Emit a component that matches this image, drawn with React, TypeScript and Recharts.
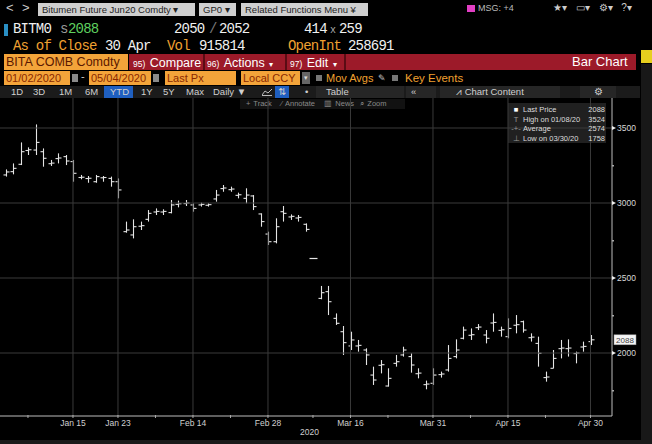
import React from "react";
import { ComposedChart, Bar, XAxis, YAxis, ReferenceLine } from "recharts";

// trading days, Jan 2 – Apr 30 2020 (SHFE closed for CNY + Qingming)
const dates = [
  "01/02", "01/03", "01/06", "01/07", "01/08", "01/09", "01/10", "01/13", "01/14", "01/15",
  "01/16", "01/17", "01/20", "01/21", "01/22", "01/23",
  "02/03", "02/04", "02/05", "02/06", "02/07", "02/10", "02/11", "02/12", "02/13", "02/14",
  "02/17", "02/18", "02/19", "02/20", "02/21", "02/24", "02/25", "02/26", "02/27", "02/28",
  "03/02", "03/03", "03/04", "03/05", "03/06", "03/09", "03/10", "03/11", "03/12", "03/13",
  "03/16", "03/17", "03/18", "03/19", "03/20", "03/23", "03/24", "03/25", "03/26", "03/27",
  "03/30", "03/31",
  "04/01", "04/02", "04/03", "04/07", "04/08", "04/09", "04/10", "04/13", "04/14", "04/15",
  "04/16", "04/17", "04/20", "04/21", "04/22", "04/23", "04/24", "04/27", "04/28", "04/29", "04/30",
];

const opens = [
  3187, 3209, 3258, 3350, 3353, 3342, 3262, 3296, 3309, 3276,
  3170, 3163, 3142, 3168, 3164, 3142,
  2809, 2787, 2845, 2891, 2940, 2940, 2936, 2991, 2996, 2987,
  2987, 2985, 3027, 3096, 3089, 3051, 3031, 3047, 2927, 2793,
  2742, 2942, 2907, 2900, 2858, 2630, 2364, 2409, 2231, 2142,
  2047, 2047, 2020, 1853, 1918, 1780, 1931, 1987, 1976, 1862,
  1789, 1798,
  1856, 1887, 1976, 2098, 2118, 2169, 2120, 2200, 2151, 2109,
  2185, 2209, 2102, 2064, 1836, 1898, 2029, 2029, 1996, 2040, 2076,
];
const highs = [
  3224, 3264, 3404, 3371, 3524, 3364, 3287, 3331, 3320, 3287,
  3187, 3180, 3187, 3180, 3176, 3164,
  2876, 2891, 2876, 2953, 2964, 2958, 3020, 3016, 3020, 2998,
  3002, 2998, 3087, 3120, 3109, 3069, 3098, 3053, 2931, 2809,
  2898, 2980, 2924, 2920, 2864, 2630, 2447, 2447, 2264, 2180,
  2142, 2087, 2031, 1909, 1953, 1898, 1987, 2042, 1998, 1898,
  1816, 1898,
  1876, 2053, 2091, 2176, 2164, 2193, 2153, 2264, 2176, 2231,
  2253, 2216, 2131, 2109, 1876, 2020, 2087, 2091, 2009, 2076, 2120,
];
const lows = [
  3176, 3191, 3253, 3320, 3320, 3242, 3247, 3264, 3253, 3142,
  3158, 3135, 3135, 3142, 3109, 3031,
  2802, 2764, 2820, 2876, 2920, 2920, 2931, 2971, 2980, 2942,
  2976, 2976, 3009, 3075, 3075, 3031, 2998, 2953, 2842, 2720,
  2731, 2876, 2887, 2876, 2809, 2630, 2358, 2253, 2187, 1987,
  2020, 2009, 1920, 1787, 1864, 1776, 1909, 1976, 1869, 1831,
  1758, 1787,
  1836, 1876, 1964, 2091, 2087, 2153, 2064, 2142, 2109, 2098,
  2131, 2136, 2076, 1909, 1809, 1898, 1964, 1976, 1931, 2009, 2053,
];
const closes = [
  3207, 3231, 3342, 3355, 3404, 3298, 3266, 3300, 3280, 3198,
  3172, 3165, 3176, 3170, 3142, 3087,
  2820, 2842, 2849, 2931, 2944, 2944, 2987, 2995, 3000, 2964,
  2991, 2989, 3053, 3100, 3093, 3055, 3053, 2976, 2876, 2742,
  2842, 2931, 2911, 2904, 2824, 2630, 2402, 2342, 2198, 2069,
  2087, 2051, 1987, 1820, 1922, 1831, 1942, 2020, 1920, 1866,
  1793, 1853,
  1860, 1964, 2020, 2153, 2122, 2173, 2098, 2204, 2155, 2164,
  2189, 2153, 2106, 1998, 1840, 1964, 2033, 2033, 2000, 2044, 2088,
];

const majorTickIdx = [9, 15, 25, 35, 46, 57, 67, 78];
const majorTickText = ["Jan 15", "Jan 23", "Feb 14", "Feb 28", "Mar 16", "Mar 31", "Apr 15", "Apr 30"];
const minorTickIdx = [3, 20, 30, 41, 51, 62, 72];
const priceTicks = [1750, 2000, 2250, 2500, 2750, 3000, 3250, 3500];
const priceGrid = [2000, 2500, 3000, 3500];
const lastPrice = 2088;

const legendRows = [
  { icon: "■", label: "Last Price", value: "2088" },
  { icon: "T", label: "High on 01/08/20", value: "3524" },
  { icon: "-+-", label: "Average", value: "2574" },
  { icon: "⊥", label: "Low on 03/30/20", value: "1758" },
];

const data = dates.map((d, i) => ({
  i,
  date: d,
  o: opens[i],
  h: highs[i],
  l: lows[i],
  c: closes[i],
  range: [lows[i], highs[i]],
}));

const FONT = "'Liberation Sans', Arial, sans-serif";
const MONO = "'Liberation Mono', 'DejaVu Sans Mono', monospace";
const ORANGE = "#f3a43a";
const ORANGE_TXT = "#f0a030";
const BAR = "#e4e4e4";
const GRID = "#3a3a3a";

function OhlcShape(props: any) {
  const { x, y, width, height, payload } = props;
  if (x == null || y == null) return null;
  const cx = Math.round(x + width / 2) + 0.5;
  const top = Math.min(y, y + height);
  const len = Math.abs(height);
  const span = payload.h - payload.l;
  if (span === 0) {
    return <line x1={cx - 4} x2={cx + 4} y1={top} y2={top} stroke={BAR} strokeWidth={1.2} />;
  }
  const py = (v: number) => top + ((payload.h - v) / span) * len;
  return (
    <g stroke={BAR} strokeWidth={1.1}>
      <line x1={cx} x2={cx} y1={top} y2={top + len} />
      <line x1={cx - 3} x2={cx} y1={py(payload.o)} y2={py(payload.o)} />
      <line x1={cx} x2={cx + 3} y1={py(payload.c)} y2={py(payload.c)} />
    </g>
  );
}

function XTick(props: any) {
  const { x, y, payload } = props;
  const k = majorTickIdx.indexOf(payload.value);
  return (
    <g>
      <line x1={x} x2={x} y1={y - 1} y2={y + 2} stroke="#aaa" />
      {k >= 0 && (
        <text x={x} y={y + 10} textAnchor="middle" fontSize={8.5} fill="#d0d0d0" fontFamily={FONT}>
          {majorTickText[k]}
        </text>
      )}
    </g>
  );
}

function YTick(props: any) {
  const { x, y, payload } = props;
  const v = payload.value;
  if (v % 500 !== 0) {
    return <rect x={x} y={y - 0.5} width={2} height={1.5} fill="#aaa" />;
  }
  return (
    <g>
      <polygon points={`${x},${y - 2} ${x + 4},${y} ${x},${y + 2}`} fill="#eee" />
      <text x={x + 5} y={y + 3} fontSize={8.5} fill="#d8d8d8" fontFamily={FONT}>
        {v}
      </text>
    </g>
  );
}

function LastLabel(props: any) {
  const { viewBox } = props;
  const bx = viewBox.x + viewBox.width + 2;
  const by = viewBox.y;
  return (
    <g>
      <rect x={bx} y={by - 5} width={22} height={10} fill="#f4f4f4" stroke="#999" strokeWidth={0.5} />
      <text x={bx + 11} y={by + 3} textAnchor="middle" fontSize={8} fill="#444" fontFamily={FONT}>
        {lastPrice}
      </text>
    </g>
  );
}

const abs = (left: number, top: number, extra: React.CSSProperties = {}): React.CSSProperties => ({
  position: "absolute",
  left,
  top,
  whiteSpace: "nowrap",
  ...extra,
});

function Box({ left, top, width, text, bg = ORANGE, color = "#8a2800", fs = 11 }: any) {
  return (
    <div
      style={abs(left, top, {
        width,
        height: 14,
        background: bg,
        color,
        fontSize: fs,
        lineHeight: "14px",
        paddingLeft: 2,
        boxSizing: "border-box",
        overflow: "hidden",
      })}
    >
      {text}
    </div>
  );
}

function Mono({ left, top, color, text, fs = 14 }: any) {
  return (
    <div
      style={abs(left, top, {
        fontFamily: MONO,
        fontSize: fs,
        color,
        lineHeight: "15px",
        letterSpacing: fs === 14 ? -0.8 : 0,
      })}
    >
      {text}
    </div>
  );
}

function Header() {
  const grey = { background: "#cfcfcf", color: "#222", fontSize: 9.5, lineHeight: "13px", height: 13, paddingLeft: 4, boxSizing: "border-box" as const };
  return (
    <>
      {/* row 1 */}
      <div style={abs(6, 0, { color: "#ccc", fontSize: 13 })}>&lt;</div>
      <div style={abs(22, 0, { color: "#ccc", fontSize: 13 })}>&gt;</div>
      <div style={abs(38, 3, { ...grey, width: 157 })}>Bitumen Future Jun20 Comdty ▾</div>
      <div style={abs(199, 3, { ...grey, width: 37 })}>GP0 ▾</div>
      <div style={abs(241, 3, { ...grey, width: 127 })}>Related Functions Menu ¥</div>
      <div style={abs(467, 5, { width: 8, height: 7, background: "#e23fc4" })} />
      <div style={abs(478, 3, { color: "#bbb", fontSize: 9 })}>MSG: +4</div>
      <div style={abs(553, 2, { color: "#ccc", fontSize: 10, wordSpacing: 6 })}>★▾ ▭▾ ⚙▾ ?▾</div>

      {/* row 2 */}
      <div style={abs(4, 24, { width: 4, height: 12, background: "#2a8fc4" })} />
      <Mono left={13} top={22} color="#f0f0f0" text="BITM0" />
      <Mono left={60} top={22} color="#9a9a9a" text="s" />
      <Mono left={68} top={22} color="#5fcf5f" text="2088" />
      <Mono left={174} top={22} color="#f0f0f0" text="2050" />
      <Mono left={209} top={22} color="#777" text="/" />
      <Mono left={219} top={22} color="#f0f0f0" text="2052" />
      <Mono left={304} top={22} color="#f0f0f0" text="414" />
      <div style={abs(330, 25, { fontFamily: MONO, fontSize: 10, color: "#aaa", lineHeight: "11px" })}>x</div>
      <Mono left={339} top={22} color="#f0f0f0" text="259" />

      {/* row 3 */}
      <Mono left={13} top={38.5} color={ORANGE_TXT} text="As of Close" />
      <Mono left={105} top={38.5} color="#f0f0f0" text="30 Apr" />
      <Mono left={167} top={38.5} color={ORANGE_TXT} text="Vol" />
      <Mono left={199} top={38.5} color="#f0f0f0" text="915814" />
      <Mono left={288} top={38.5} color={ORANGE_TXT} text="OpenInt" />
      <Mono left={348} top={38.5} color="#f0f0f0" text="258691" />

      {/* row 4 */}
      <div style={abs(4, 54, { width: 124, height: 16, background: ORANGE, color: "#5a1800", fontSize: 12.5, lineHeight: "16px", paddingLeft: 2, boxSizing: "border-box" })}>
        BITA COMB Comdty
      </div>
      <div style={abs(129, 54, { width: 507, height: 16, background: "#9c1a29" })} />
      <div style={abs(203, 54, { width: 2, height: 16, background: "#5a0c14" })} />
      <div style={abs(285, 54, { width: 2, height: 16, background: "#5a0c14" })} />
      <div style={abs(344, 54, { width: 2, height: 16, background: "#5a0c14" })} />
      <div style={abs(133, 54, { color: "#fff", lineHeight: "16px" })}>
        <span style={{ fontSize: 8.5 }}>95)</span> <span style={{ fontSize: 12.5 }}>Compare</span>
      </div>
      <div style={abs(207, 54, { color: "#fff", lineHeight: "16px" })}>
        <span style={{ fontSize: 8.5 }}>96)</span> <span style={{ fontSize: 12.5 }}>Actions</span> <span style={{ fontSize: 8 }}>▾</span>
      </div>
      <div style={abs(290, 54, { color: "#fff", lineHeight: "16px" })}>
        <span style={{ fontSize: 8.5 }}>97)</span> <span style={{ fontSize: 12.5 }}>Edit</span> <span style={{ fontSize: 8 }}>▾</span>
      </div>
      <div style={abs(572, 54, { color: "#fff", lineHeight: "16px", fontSize: 13 })}>Bar Chart</div>
      <div style={abs(641, 50, { width: 11, height: 13, background: "#e6cf1e" })} />
      <div style={abs(641, 64, { width: 11, height: 380, background: "#181818" })} />

      {/* row 5 */}
      <Box left={4} top={71} width={66} text="01/02/2020" />
      <div style={abs(72, 74, { width: 6, height: 8, background: "#8a8a8a" })} />
      <div style={abs(81, 70, { color: "#ccc", fontSize: 11 })}>-</div>
      <Box left={89} top={71} width={62} text="05/04/2020" />
      <div style={abs(153, 74, { width: 6, height: 8, background: "#8a8a8a" })} />
      <Box left={165} top={71} width={71} text="Last Px" />
      <Box left={241} top={71} width={59} text="Local CCY" />
      <div style={abs(302, 72, { width: 8, height: 12, background: "#666", color: "#ddd", fontSize: 7, lineHeight: "12px", textAlign: "center" })}>▾</div>
      <div style={abs(316, 75, { width: 6, height: 6, background: "#777" })} />
      <div style={abs(326, 71, { color: ORANGE_TXT, fontSize: 11, lineHeight: "14px" })}>Mov Avgs</div>
      <div style={abs(378, 71, { color: "#ccc", fontSize: 9, lineHeight: "14px" })}>✎</div>
      <div style={abs(392, 75, { width: 6, height: 6, background: "#777" })} />
      <div style={abs(405, 71, { color: ORANGE_TXT, fontSize: 11.5, lineHeight: "14px" })}>Key Events</div>

      {/* row 6 */}
      <div style={abs(0, 86, { width: 640, height: 12, background: "#1b1b1b" })} />
      <div style={abs(316, 86, { width: 88, height: 12, background: "#262626" })} />
      <div style={abs(406, 86, { width: 30, height: 12, background: "#262626" })} />
      <div style={abs(440, 86, { width: 120, height: 12, background: "#262626" })} />
      <div style={abs(580, 86, { width: 36, height: 12, background: "#262626" })} />
      <div style={abs(104, 86, { width: 29, height: 12, background: "#1f5fc0" })} />
      <div style={abs(275, 86, { width: 14, height: 12, background: "#1f5fc0" })} />
      {[
        ["1D", 11], ["3D", 33], ["1M", 59], ["6M", 85], ["YTD", 110], ["1Y", 141], ["5Y", 163],
        ["Max", 186], ["Daily ▼", 213], ["⇅", 278], ["•", 305], ["Table", 326], ["«", 411],
        ["⩘ Chart Content", 456], ["⚙", 594],
      ].map(([t, l]) => (
        <div key={t as string} style={abs(l as number, 86, { color: "#d0d0d0", fontSize: 9.5, lineHeight: "12px" })}>
          {t}
        </div>
      ))}
      <svg style={abs(262, 88, {})} width={11} height={8}>
        <polyline points="0,7 3,3 6,5 10,1" fill="none" stroke="#bbb" strokeWidth={1} />
        <line x1={0} x2={10} y1={7.5} y2={7.5} stroke="#bbb" strokeWidth={1} />
      </svg>

      {/* row 7 */}
      <div style={abs(240, 99, { width: 165, height: 10, background: "#121212" })} />
      <div style={abs(246, 99, { color: "#8a8a8a", fontSize: 7.5, lineHeight: "10px", wordSpacing: 1 })}>
        + Track&nbsp;&nbsp;&nbsp;⁄ Annotate&nbsp;&nbsp;&nbsp;▥ News&nbsp;&nbsp;⌕ Zoom
      </div>
    </>
  );
}

function LegendBox() {
  return (
    <div style={abs(508, 103, { width: 98, height: 40, background: "rgba(58,58,58,0.55)", fontFamily: FONT, fontSize: 7.5, color: "#ddd" })}>
      {legendRows.map((r, k) => (
        <div key={r.label} style={{ position: "absolute", top: 2 + k * 9.5, left: 3, width: 94, height: 9, lineHeight: "9px" }}>
          <span style={{ display: "inline-block", width: 10, textAlign: "center", color: k === 0 ? "#fff" : "#999" }}>{r.icon}</span>
          <span style={{ marginLeft: 2 }}>{r.label}</span>
          <span style={{ position: "absolute", right: 0 }}>{r.value}</span>
        </div>
      ))}
    </div>
  );
}

export default function App() {
  return (
    <div style={{ position: "relative", width: 652, height: 444, background: "#000", overflow: "hidden", fontFamily: FONT }}>
      <style>{"body{margin:0;background:#000}"}</style>
      <Header />
      <div style={abs(0, 98, {})}>
        <ComposedChart width={652} height={346} data={data} margin={{ top: 0, right: 0, bottom: 0, left: 0 }}>
          {priceGrid.map((v) => (
            <ReferenceLine key={"h" + v} y={v} stroke={GRID} strokeWidth={1} />
          ))}
          {majorTickIdx.map((v) => (
            <ReferenceLine key={"v" + v} x={v} stroke={GRID} strokeWidth={1} />
          ))}
          <XAxis
            type="number"
            dataKey="i"
            domain={[-0.73, 80.87]}
            allowDataOverflow
            ticks={[...majorTickIdx, ...minorTickIdx].sort((a, b) => a - b)}
            interval={0}
            tick={<XTick />}
            tickLine={false}
            tickSize={0}
            tickMargin={0}
            height={28}
            axisLine={{ stroke: "#bdbdbd" }}
          />
          <YAxis
            orientation="right"
            domain={[1580, 3700]}
            allowDataOverflow
            ticks={priceTicks}
            interval={0}
            tick={<YTick />}
            tickLine={false}
            tickSize={0}
            tickMargin={0}
            width={40}
            axisLine={{ stroke: "#bdbdbd" }}
          />
          <Bar dataKey="range" barSize={6} shape={<OhlcShape />} isAnimationActive={false} />
          <ReferenceLine y={lastPrice} stroke="none" label={<LastLabel />} />
        </ComposedChart>
      </div>
      <LegendBox />
      <div style={abs(300, 427, { color: "#cfcfcf", fontSize: 8.5 })}>2020</div>
      <div style={abs(0, 440, { width: 652, height: 4, background: "#1a1a1a" })} />
    </div>
  );
}
